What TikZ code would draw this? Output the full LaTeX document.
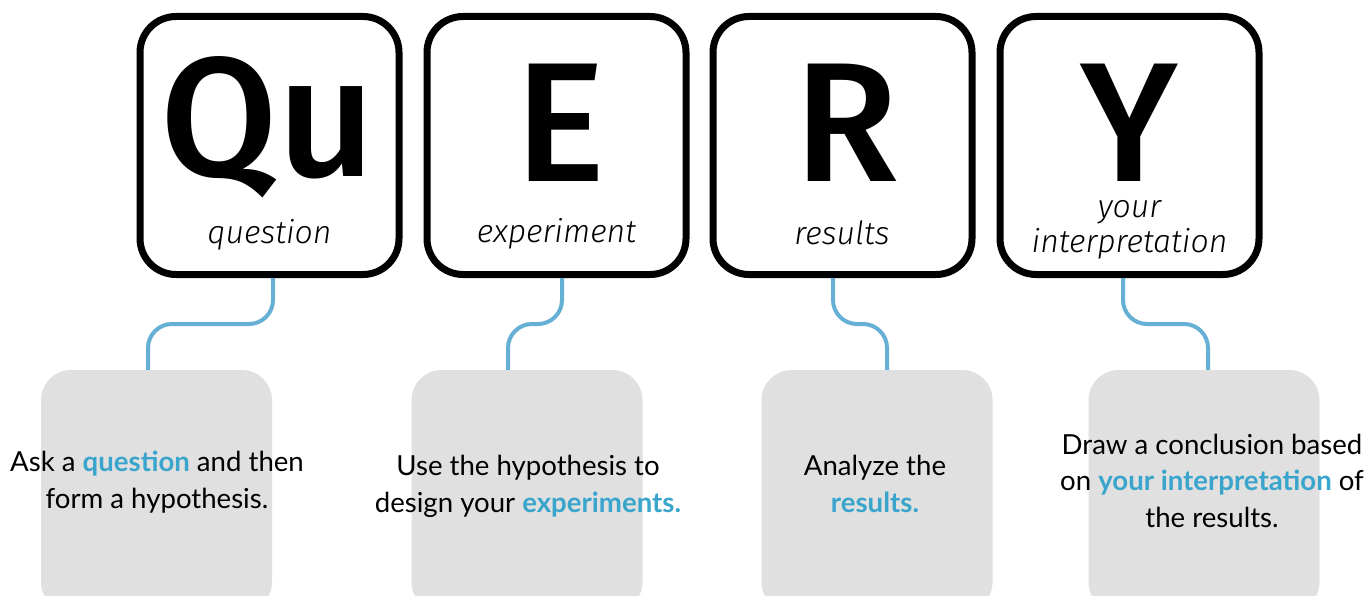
\documentclass[tikz,border=0pt]{standalone}
\usepackage{fontspec}
\setmainfont{Lato}
\newfontfamily\letterfont{Fira Sans Medium}
\newfontfamily\tagfont{Fira Sans Light Italic}
\usetikzlibrary{positioning,calc}
\definecolor{linkblue}{RGB}{103,176,213}
\definecolor{wordblue}{RGB}{57,165,204}
\definecolor{notegrey}{RGB}{224,224,224}
\tikzset{letter box/.style={draw,line width=7pt,rounded corners=36pt,minimum width=259pt,minimum height=258pt,inner sep=0pt}}
\tikzset{note box/.style={fill=notegrey,rounded corners=30pt,minimum width=231pt,minimum height=242pt,inner sep=0pt}}
\tikzset{big letter/.style={font={\letterfont\fontsize{170}{170}\selectfont},anchor=base,inner sep=0pt,text height=122pt,text depth=0pt}}
\tikzset{tag/.style={font={\tagfont\fontsize{32}{35}\selectfont},anchor=base,align=center,inner sep=0pt}}
\tikzset{note/.style={font={\fontsize{27.6}{36.5}\selectfont},anchor=base,align=center,inner sep=0pt}}
\tikzset{link/.style={draw=linkblue,line width=4pt,rounded corners=24pt}}
\newcommand{\keyword}[1]{\textcolor{wordblue}{\bfseries #1}}

\begin{document}
\begin{tikzpicture}[x=1pt,y=-1pt]
  \useasboundingbox (0,0) rectangle (1372,596);
  \clip (0,0) rectangle (1372,596);
  \node[letter box] (q) at (269.5,145.5) {};
  \node[letter box] (e) at (556.5,145.5) {};
  \node[letter box] (r) at (842.5,145.5) {};
  \node[letter box] (y) at (1129.5,145.5) {};
  \node[big letter] (qu) at (268,177) {Qu};
  \node[big letter] (ee) at (561,182) {E};
  \node[big letter] (rr) at (846,182) {R};
  \node[big letter] (yy) at (1129.5,182) {Y};
  \node[tag] (qtag) at (269.5,243) {question};
  \node[tag] (etag) at (556.5,242) {experiment};
  \node[tag] (rtag) at (842,244) {results};
  \node[tag] (ytag) at (1129.5,252) {your\\interpretation};
  \node[note box] (qa) at (156.5,491) {};
  \node[note box] (ea) at (527,491) {};
  \node[note box] (ra) at (877,491) {};
  \node[note box] (ya) at (1204,491) {};
  \node[note] (qtext) at (157,508) {Ask a \keyword{question} and then\\form a hypothesis.};
  \node[note] (etext) at (528,512) {Use the hypothesis to\\design your \keyword{experiments.}};
  \node[note] (rtext) at (875,512) {Analyze the\\\keyword{results.}};
  \node[note] (ytext) at (1212,527) {Draw a conclusion based\\on \keyword{your interpretation} of\\the results.};
  \draw[link] ([xshift=3.5pt]q.south) -- ++(0,46) -| ([xshift=-8.5pt]qa.north);
  \draw[link] ([xshift=5.5pt]e.south) -- ++(0,46) -| ([xshift=-19pt]ea.north);
  \draw[link] ([xshift=-9.5pt]r.south) -- ++(0,46) -| ([xshift=10pt]ra.north);
  \draw[link] ([xshift=-6.5pt]y.south) -- ++(0,46) -| ([xshift=4pt]ya.north);
\end{tikzpicture}
\end{document}
